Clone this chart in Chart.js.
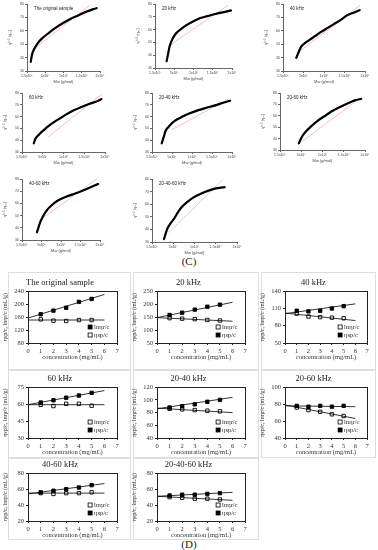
<!DOCTYPE html>
<html>
<head>
<meta charset="utf-8">
<script src="https://cdn.jsdelivr.net/npm/chart.js@4.4.1/dist/chart.umd.min.js"></script>
<style>
body{margin:0;background:#fff;}
#page{position:relative;width:378px;height:550px;overflow:hidden;font-family:"Liberation Serif",serif;}
#page canvas{position:absolute;}
.box{position:absolute;border:1px solid #dedede;box-sizing:border-box;}
.lbl{position:absolute;font-size:11px;color:#222;transform:translateX(-50%);}
</style>
</head>
<body>
<div id="page">
  <div class="lbl" style="left:189px;top:255px;">(C)</div>
  <div class="lbl" style="left:189px;top:538px;">(D)</div>
</div>
<script>
// ---------- (C) panels: values as % of each axis span ----------
const origMw  = [5,7,10,15,20,30,40,50,60,70,80,90,96];
const origEta = [13,25,33,42,48,57,65,72,78,83,88,92,94];
const origFit = [[7,31],[86,98]];

const k20Mw  = [15,17,19,23,28,35,41,50,59,68,77,88,99];
const k20Eta = [10,22,34,46,55,62,67,73,78,81,84,87,90];
const k20Fit = [[21,37],[95,98]];

const k40Mw  = [16,19,22,27,32,39,46,54,62,70,78,86,94];
const k40Eta = [19,28,36,42,46,52,58,64,70,76,83,87,91];
const k40Fit = [[22,31],[94,98]];

const k60Mw  = [14,16,20,27,33,39,47,55,63,71,80,92,96];
const k60Eta = [14,22,29,38,45,51,58,65,71,76,81,87,90];
const k60Fit = [[31,25],[96,98]];

const k2040Mw  = [12,15,17,21,25,31,38,48,58,68,79,90,98];
const k2040Eta = [14,27,36,43,49,55,60,66,71,75,79,84,87];
const k2040Fit = [[25,38],[96,90]];

const k2060Mw  = [22,25,29,37,45,53,61,70,80,88,96];
const k2060Eta = [11,21,30,42,52,60,68,75,82,87,90];
const k2060Fit = [[25,14],[96,93]];

const k4060Mw  = [19,21,23,27,32,38,45,55,70,85,98];
const k4060Eta = [12,20,28,39,49,57,64,70,77,85,92];
const k4060Fit = [[21,31],[96,100]];

const k204060Mw  = [14,16,18,22,26,30,34,41,48,60,72,79,86];
const k204060Eta = [4,13,21,30,37,46,54,63,70,78,84,86,87];
const k204060Fit = [[20,15],[84,100]];

const cXTickPos = [0,25,50,75,100];
const cXTicks = ["1.5x10\u2075","5x10\u2075","1x10\u2076","1.5x10\u2076","2x10\u2076"];
const cYTickPos = [0,20,40,60,80,100];
const cYTicks = ["30","40","50","60","70","80"];

// ---------- (D) panels ----------
const conc = [1,2,3,4,5];
const fitC = [0,6];

const origSp = [169,180,189,207,216];
const origLn = [153,149,148,151,151];
const origSpFit = [157,230];
const origLnFit = [151,151];

const d20Sp = [158,167,179,190,198];
const d20Ln = [146,144,142,139,137];
const d20SpFit = [148,207];
const d20LnFit = [148,134];

const d40Sp = [106,105,106,110,114];
const d40Ln = [101,96,95,94,93];
const d40SpFit = [101,118];
const d40LnFit = [102,89];

const d60Sp = [61.4,63.4,65.7,67.6,70];
const d60Ln = [59.4,58.3,60.3,60.3,58.6];
const d60SpFit = [59.5,72];
const d60LnFit = [59.5,59.5];

const d2040Sp = [88,90,93,97,100];
const d2040Ln = [86,85,84,83,82];
const d2040SpFit = [86,104];
const d2040LnFit = [87,80];

const d2060Sp = [78,77,78,77,78];
const d2060Ln = [76,73,71,68,66];
const d2060SpFit = [78,77];
const d2060LnFit = [79,63];

const d4060Sp = [56,58,60,62,65];
const d4060Ln = [55,54,55,55,56];
const d4060SpFit = [54,67];
const d4060LnFit = [55,55];

const d204060Sp = [52,53,53,54,55];
const d204060Ln = [50,49,48,48,47];
const d204060SpFit = [51,56];
const d204060LnFit = [51,46];

const page = document.getElementById('page');

const inTitle = {
  id:'inTitle',
  afterDraw(chart, args, opts){
    if(!opts.text) return;
    const c = chart.ctx, a = chart.chartArea;
    c.save();
    c.font = '4.5px "Liberation Sans"';
    c.fillStyle = '#222';
    c.textBaseline = 'top';
    c.fillText(opts.text, a.left + 7, a.top + 3);
    c.restore();
  }
};

const frame = {
  id:'frame',
  afterDraw(chart, args, opts){
    if(!opts.on) return;
    const c = chart.ctx, a = chart.chartArea;
    c.save();
    c.strokeStyle = '#222';
    c.lineWidth = 1;
    c.strokeRect(Math.round(a.left)+0.5, Math.round(a.top)+0.5, Math.round(a.width), Math.round(a.height));
    c.restore();
  }
};

const boxLegend = {
  id:'boxLegend',
  afterDraw(chart, args, opts){
    if(!opts.items) return;
    const c = chart.ctx, a = chart.chartArea;
    c.save();
    c.font = '6.5px "Liberation Serif"';
    c.textBaseline = 'middle';
    opts.items.forEach((it, i) => {
      const y = a.bottom - 16 + i*8;
      const x = a.right - 27;
      c.lineWidth = 0.8;
      c.strokeStyle = '#000';
      c.fillStyle = it.filled ? '#000' : '#fff';
      c.fillRect(x-2, y-2, 4, 4);
      c.strokeRect(x-2, y-2, 4, 4);
      c.fillStyle = '#222';
      c.fillText(it.label, x + 4, y);
    });
    c.restore();
  }
};

Chart.register(inTitle, frame, boxLegend);

function addCanvas(left, top, w, h){
  const cv = document.createElement('canvas');
  cv.width = w; cv.height = h;
  cv.style.left = left + 'px'; cv.style.top = top + 'px';
  page.appendChild(cv);
  return cv;
}

// axis rectangle: [left, top, right, bottom]
function cChart(rect, title, mw, eta, fit){
  const yw = 20, xh = 13, pt = 3, pr = 6;
  const cv = addCanvas(rect[0]-yw, rect[1]-pt, rect[2]-rect[0]+yw+pr, rect[3]-rect[1]+pt+xh);
  new Chart(cv, {
    type:'scatter',
    data:{datasets:[
      {data: mw.map((x,i)=>({x:x, y:eta[i]})), showLine:true, borderColor:'#000', borderWidth:2.2,
       pointRadius:0.8, pointBackgroundColor:'#000', pointBorderWidth:0, cubicInterpolationMode:'monotone'},
      {data: fit.map(p=>({x:p[0], y:p[1]})), showLine:true, borderColor:'#f2a3a3', borderWidth:0.7, pointRadius:0}
    ]},
    options:{
      responsive:false, animation:false, events:[],
      layout:{padding:{top:pt, right:pr, left:0, bottom:0}},
      plugins:{legend:{display:false}, tooltip:{enabled:false}, inTitle:{text:title}},
      scales:{
        x:{type:'linear', min:0, max:100,
          afterFit(s){ s.height = xh; },
          afterBuildTicks(s){ s.ticks = cXTickPos.map(v=>({value:v})); },
          ticks:{callback:(v)=>cXTicks[cXTickPos.indexOf(v)], font:{size:3.5, family:'Liberation Sans'}, color:'#444', padding:1, maxRotation:0, autoSkip:false},
          grid:{drawOnChartArea:false, tickLength:2, color:'#666'},
          border:{color:'#666'},
          title:{display:true, text:'Mw (g/mol)', font:{size:4, family:'Liberation Sans'}, color:'#444', padding:0}},
        y:{min:0, max:100,
          afterFit(s){ s.width = yw; },
          afterBuildTicks(s){ s.ticks = cYTickPos.map(v=>({value:v})); },
          ticks:{callback:(v)=>cYTicks[cYTickPos.indexOf(v)], font:{size:3.5, family:'Liberation Sans'}, color:'#444', padding:1},
          grid:{drawOnChartArea:false, tickLength:2, color:'#666'},
          border:{color:'#666'},
          title:{display:true, text:'\u03b7\u00b9\u141f\u00b2 (\u03b7\u1d62\u2099)', font:{size:4, family:'Liberation Sans'}, color:'#444', padding:0}}
      }
    }
  });
}

cChart([27,3,100,71], 'The original sample', origMw, origEta, origFit);
cChart([155,3,232,68], '20 kHz', k20Mw, k20Eta, k20Fit);
cChart([283,3,365,71], '40 kHz', k40Mw, k40Eta, k40Fit);
cChart([22,92,105,152], '60 kHz', k60Mw, k60Eta, k60Fit);
cChart([152,92,232,152], '20-40 kHz', k2040Mw, k2040Eta, k2040Fit);
cChart([280,92,365,150], '20-60 kHz', k2060Mw, k2060Eta, k2060Fit);
cChart([22,178,100,240], '40-60 kHz', k4060Mw, k4060Eta, k4060Fit);
cChart([152,178,237,242], '20-40-60 kHz', k204060Mw, k204060Eta, k204060Fit);

// cell: [left, top, width, height], plot rect: [left, top, right, bottom]
function dChart(cell, rect, title, sp, ln, spFit, lnFit, yMin, yMax, yStep, legendItems, spOpen){
  const b = document.createElement('div');
  b.className = 'box';
  b.style.left = cell[0]+'px'; b.style.top = cell[1]+'px';
  b.style.width = cell[2]+'px'; b.style.height = cell[3]+'px';
  page.appendChild(b);
  const yw = 26, xh = 22, th = 15;
  const cv = addCanvas(rect[0]-yw, rect[1]-th, rect[2]-rect[0]+yw+4, rect[3]-rect[1]+th+xh);
  const sq = (open) => ({pointStyle:'rect', pointRadius:2.4, borderWidth:0.9, pointBorderColor:'#000',
                        pointBackgroundColor: open ? '#fff' : '#000', showLine:false});
  new Chart(cv, {
    type:'scatter',
    data:{datasets:[
      {data: fitC.map((x,i)=>({x:x, y:spFit[i]})), showLine:true, borderColor:'#000', borderWidth:0.8, pointRadius:0},
      {data: fitC.map((x,i)=>({x:x, y:lnFit[i]})), showLine:true, borderColor:'#000', borderWidth:0.8, pointRadius:0},
      Object.assign({data: conc.map((x,i)=>({x:x, y:sp[i]}))}, sq(!!spOpen)),
      Object.assign({data: conc.map((x,i)=>({x:x, y:ln[i]}))}, sq(!spOpen))
    ]},
    options:{
      responsive:false, animation:false, events:[],
      layout:{padding:{top:0, right:4, left:0, bottom:0}},
      plugins:{
        legend:{display:false}, tooltip:{enabled:false},
        title:{display:true, text:title, font:{size:8.5, family:'Liberation Serif', weight:'normal'}, color:'#222', padding:{top:2, bottom:3}},
        frame:{on:true}, boxLegend:{items:legendItems}
      },
      scales:{
        x:{type:'linear', min:0, max:7,
          afterFit(s){ s.height = xh; },
          ticks:{stepSize:1, font:{size:6.5, family:'Liberation Serif'}, color:'#333', padding:2},
          grid:{drawOnChartArea:false, tickLength:2, color:'#222'},
          border:{color:'#222'},
          title:{display:true, text:'concentration (mg/mL)', font:{size:6.5, family:'Liberation Serif'}, color:'#333', padding:{top:2}}},
        y:{min:yMin, max:yMax,
          afterFit(s){ s.width = yw; },
          ticks:{stepSize:yStep, font:{size:6.5, family:'Liberation Serif'}, color:'#333', padding:2},
          grid:{drawOnChartArea:false, tickLength:2, color:'#222'},
          border:{color:'#222'},
          title:{display:true, text:'\u03b7sp/c, ln\u03b7r/c (mL/g)', font:{size:6, family:'Liberation Serif'}, color:'#333', padding:0}}
      }
    }
  });
}

const legA = [{label:'ln\u03b7r/c', filled:true}, {label:'\u03b7sp/c', filled:false}];
const legB = [{label:'ln\u03b7r/c', filled:false}, {label:'\u03b7sp/c', filled:true}];

dChart([8,272,123,98], [28,291,118,343], 'The original sample', origSp, origLn, origSpFit, origLnFit, 80, 240, 40, legA);
dChart([133,272,126,98], [157,291,246,343], '20 kHz', d20Sp, d20Ln, d20SpFit, d20LnFit, 50, 250, 50, legB);
dChart([261,272,115,98], [285,291,368,343], '40 kHz', d40Sp, d40Ln, d40SpFit, d40LnFit, 50, 140, 30, legB);
dChart([8,370,123,88], [28,387,118,438], '60 kHz', d60Sp, d60Ln, d60SpFit, d60LnFit, 30, 75, 15, legB);
dChart([133,370,126,88], [157,387,246,438], '20-40 kHz', d2040Sp, d2040Ln, d2040SpFit, d2040LnFit, 40, 120, 20, legB);
dChart([261,370,115,88], [285,387,368,438], '20-60 kHz', d2060Sp, d2060Ln, d2060SpFit, d2060LnFit, 40, 100, 20, legB);
dChart([8,458,123,82], [28,473,118,521], '40-60 kHz', d4060Sp, d4060Ln, d4060SpFit, d4060LnFit, 20, 80, 20, legB);
dChart([133,458,126,82], [157,473,246,521], '20-40-60 kHz', d204060Sp, d204060Ln, d204060SpFit, d204060LnFit, 20, 80, 20, legB);
</script>
</body>
</html>
